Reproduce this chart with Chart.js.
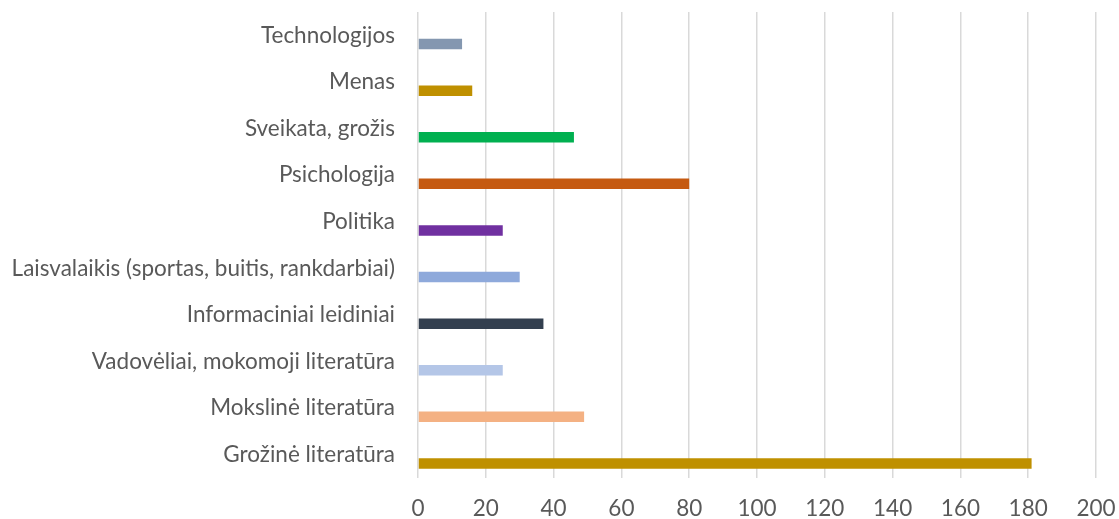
<!DOCTYPE html>
<html>
<head>
<meta charset="utf-8">
<script src="https://cdn.jsdelivr.net/npm/chart.js@4"></script>
<style>
  html, body { margin: 0; padding: 0; background: #ffffff; }
  #wrap { width: 1119px; height: 519px; position: relative; }
</style>
</head>
<body>
<div id="wrap"><canvas id="c" width="1119" height="519"></canvas></div>
<script>
const categories = [
  "Technologijos",
  "Menas",
  "Sveikata, grožis",
  "Psichologija",
  "Politika",
  "Laisvalaikis (sportas, buitis, rankdarbiai)",
  "Informaciniai leidiniai",
  "Vadovėliai, mokomoji literatūra",
  "Mokslinė literatūra",
  "Grožinė literatūra"
];
const values = [13, 16, 46, 80, 25, 30, 37, 25, 49, 181];
const barColors = [
  "#8497B0", "#BF9000", "#00B050", "#C55A11", "#7030A0",
  "#8EA9DB", "#333F4F", "#B4C6E7", "#F4B183", "#BF9000"
];
const xTicks = [0, 20, 40, 60, 80, 100, 120, 140, 160, 180, 200];

const FONT = "Lato";
const FS = 22.5;

new Chart(document.getElementById("c"), {
  type: "bar",
  data: {
    labels: categories,
    datasets: [
      { label: "", data: categories.map(() => null), backgroundColor: "rgba(0,0,0,0)" },
      { label: "Kiekis", data: values, backgroundColor: barColors, borderWidth: 0 }
    ]
  },
  options: {
    indexAxis: "y",
    responsive: false,
    animation: false,
    categoryPercentage: 0.75,
    barPercentage: 0.6,
    layout: { padding: { top: 12, right: 23, bottom: 0, left: 0 } },
    plugins: { legend: { display: false }, tooltip: { enabled: false } },
    scales: {
      x: {
        min: 0, max: 200,
        afterBuildTicks: (s) => { s.ticks = xTicks.map(v => ({ value: v })); },
        afterFit: (s) => { s.height = 41; s.paddingLeft = 0; s.paddingRight = 0; },
        grid: { color: "#D9D9D9", lineWidth: 1.5, drawTicks: false },
        border: { display: false },
        ticks: { color: "#595959", font: { family: FONT, size: FS }, padding: 17, maxRotation: 0 }
      },
      y: {
        afterFit: (s) => { s.width = 418; s.paddingTop = 0; s.paddingBottom = 0; },
        grid: { display: false, drawTicks: false },
        border: { display: false },
        ticks: { color: "#595959", font: { family: FONT, size: FS }, padding: 23, autoSkip: false }
      }
    }
  }
});
</script>
</body>
</html>
